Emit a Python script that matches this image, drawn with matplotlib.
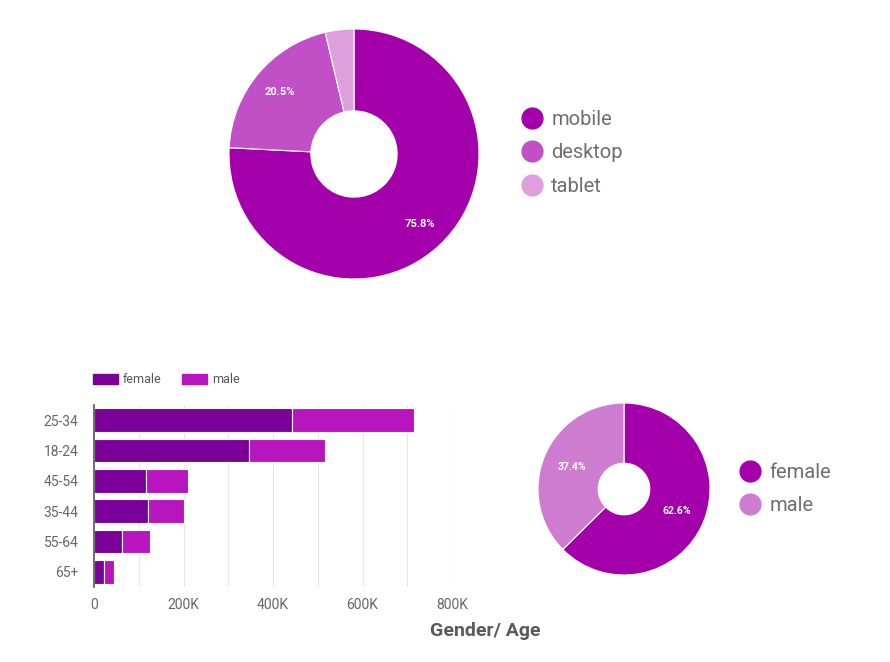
import matplotlib
matplotlib.use("Agg")
import matplotlib.pyplot as plt
from matplotlib.ticker import MultipleLocator, FuncFormatter
from matplotlib.lines import Line2D
from matplotlib.patches import Patch

plt.rcParams['font.family'] = ['Roboto', 'DejaVu Sans']

# Data
device_labels = ["mobile", "desktop", "tablet"]
device_share = [75.8, 20.5, 3.7]
device_colors = ["#A300AB", "#C150C6", "#DDA0DD"]

age_groups = ["25-34", "18-24", "45-54", "35-44", "55-64", "65+"]
female_users = [442000, 347000, 116000, 121000, 63000, 22000]
male_users = [274000, 170000, 93000, 79000, 63000, 23000]
bar_colors = ["#7B0099", "#B915BF"]

gender_labels = ["female", "male"]
gender_share = [62.6, 37.4]
gender_colors = ["#A300AB", "#CE7CD0"]

W, H = 890, 662
fig = plt.figure(figsize=(W / 100, H / 100), dpi=100)
fig.patch.set_facecolor("white")


def px_axes(left, top, right, bottom):
    return fig.add_axes([left / W, 1 - bottom / H, (right - left) / W, (bottom - top) / H])


def circle_legend(colors, labels, x_left, y_center):
    handles = [Line2D([0], [0], marker="o", linestyle="", markersize=15,
                      markerfacecolor=c, markeredgecolor=c) for c in colors]
    fig.legend(handles, labels, loc="center left",
               bbox_to_anchor=(x_left / W, 1 - y_center / H), frameon=False,
               fontsize=14.5, labelcolor="#6E6E6E", handletextpad=0.45,
               labelspacing=0.72, handlelength=1.0, borderpad=0, borderaxespad=0)


# --- Top donut ---
ax1 = px_axes(229, 29, 479, 279)
ax1.pie(
    device_share, colors=device_colors, startangle=90, counterclock=False,
    radius=1, autopct=lambda p: f"{p:.1f}%" if p > 10 else "", pctdistance=0.77,
    wedgeprops=dict(width=0.655, edgecolor="white", linewidth=0.8),
    textprops=dict(color="white", fontsize=8, fontweight="bold"))
ax1.set_xlim(-1, 1)
ax1.set_ylim(-1, 1)
ax1.set_aspect("equal")

circle_legend(device_colors, device_labels, 522, 153)

# --- Bar chart ---
ax2 = px_axes(94, 405, 452, 587)
y = list(range(len(age_groups)))
ax2.barh(y, female_users, height=0.77, color=bar_colors[0], edgecolor="white",
         linewidth=0.8, label="female", zorder=3)
ax2.barh(y, male_users, left=female_users, height=0.77, color=bar_colors[1],
         edgecolor="white", linewidth=0.8, label="male", zorder=3)
ax2.set_xlim(0, 800000)
ax2.set_ylim(len(age_groups) - 0.5, -0.5)
ax2.set_yticks(y)
ax2.set_yticklabels(age_groups)
ax2.xaxis.set_major_locator(MultipleLocator(200000))
ax2.xaxis.set_minor_locator(MultipleLocator(100000))
ax2.xaxis.set_major_formatter(FuncFormatter(lambda v, p: "0" if v == 0 else f"{int(v/1000)}K"))
ax2.grid(axis="x", which="both", color="#E6E6E6", linewidth=0.8, zorder=0)
ax2.tick_params(axis="both", which="both", length=0, labelsize=10, labelcolor="#666666")
ax2.tick_params(axis="y", pad=11)
ax2.tick_params(axis="x", pad=8)
for s in ["top", "right", "bottom"]:
    ax2.spines[s].set_visible(False)
ax2.spines["left"].set_color("#555555")
ax2.spines["left"].set_linewidth(1.2)
ax2.spines["left"].set_zorder(4)

handles2 = [Patch(facecolor=c, edgecolor=c) for c in bar_colors]
fig.legend(handles2, gender_labels, loc="center left",
           bbox_to_anchor=(93 / W, 1 - 379.5 / H), frameon=False, ncol=2,
           fontsize=9, labelcolor="#555555", handlelength=2.0, handleheight=0.9,
           handletextpad=0.4, columnspacing=1.6, borderpad=0, borderaxespad=0)

fig.text(485 / W, 1 - 631 / H, "Gender/ Age", ha="center", va="center",
         fontsize=14, fontweight="bold", color="#5A5A5A")

# --- Gender donut ---
ax3 = px_axes(538, 403, 710, 575)
ax3.pie(gender_share, colors=gender_colors, startangle=90, counterclock=False,
        radius=1, autopct="%1.1f%%", pctdistance=0.66,
        wedgeprops=dict(width=0.7, edgecolor="white", linewidth=0.8),
        textprops=dict(color="white", fontsize=7.5, fontweight="bold"))
ax3.set_xlim(-1, 1)
ax3.set_ylim(-1, 1)
ax3.set_aspect("equal")

circle_legend(gender_colors, gender_labels, 740, 489)

fig.savefig("out.png", dpi=100, facecolor="white")
